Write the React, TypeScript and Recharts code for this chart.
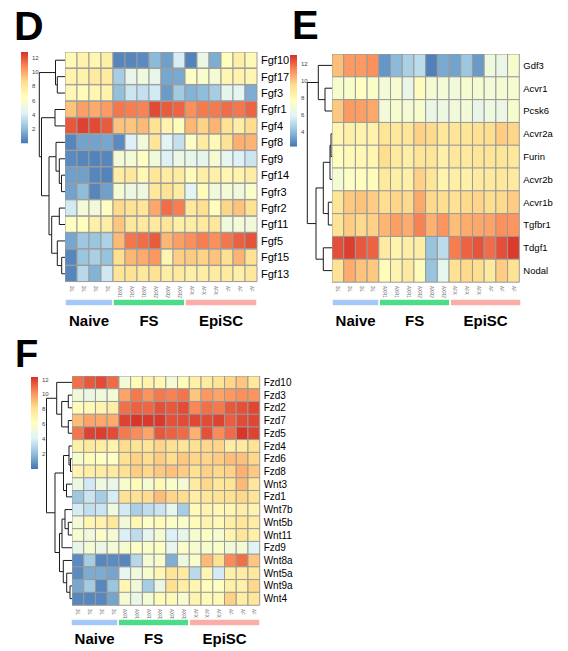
import React from 'react'
import { BarChart, Bar, XAxis, YAxis, Cell, ScatterChart, Scatter, ReferenceLine, LabelList } from 'recharts'

// columns shared by all three heatmaps
const sampleLabels = ['2iL', '2iL', '2iL', '2iL', 'AXR1', 'AXR1', 'AXR1', 'AXR2', 'AXR2', 'AXR2', 'AFX', 'AFX', 'AFX', 'AF', 'AF', 'AF']
const groupNames = ['Naive', 'FS', 'EpiSC']
const groupSizes = [4, 6, 6]
const groupColors = ['#a6c8f7', '#4ddc88', '#faaea7']

// D: FGF family
const fgfGenes = ['Fgf10', 'Fgf17', 'Fgf3', 'Fgfr1', 'Fgf4', 'Fgf8', 'Fgf9', 'Fgf14', 'Fgfr3', 'Fgfr2', 'Fgf11', 'Fgf5', 'Fgf15', 'Fgf13']
const fgfValues = [
  [6.8, 7.3, 7.0, 7.5, 0.5, 0.5, 0.6, 2.0, 1.2, 4.0, 0.4, 5.0, 1.6, 6.5, 7.5, 6.8],
  [7.2, 7.3, 7.8, 7.8, 2.7, 4.8, 5.3, 4.8, 1.4, 1.5, 6.2, 6.0, 5.6, 7.0, 7.2, 7.0],
  [6.9, 6.6, 7.0, 7.3, 2.2, 3.7, 3.5, 3.9, 1.1, 2.6, 1.8, 2.1, 2.7, 4.7, 4.6, 1.6],
  [9.3, 10.2, 9.9, 10.3, 11.2, 11.0, 10.9, 12.2, 11.8, 11.6, 10.6, 11.1, 11.1, 11.4, 11.2, 11.6],
  [11.9, 12.4, 12.2, 11.8, 9.3, 9.2, 9.5, 8.3, 7.2, 6.6, 9.6, 8.9, 9.7, 8.3, 7.6, 8.6],
  [0.5, 1.3, 1.3, 1.4, 0.6, 4.2, 5.4, 8.2, 4.4, 3.5, 6.2, 7.7, 6.8, 8.3, 9.8, 9.7],
  [0.6, 0.5, 0.4, 0.5, 5.5, 5.6, 6.3, 5.4, 4.2, 5.1, 4.8, 4.7, 5.7, 4.6, 4.2, 3.7],
  [1.2, 1.2, 0.5, 0.4, 7.6, 8.0, 6.9, 8.1, 7.7, 7.8, 6.7, 7.5, 7.4, 7.0, 7.2, 7.6],
  [1.3, 2.1, 0.5, 1.2, 5.6, 5.1, 5.2, 8.0, 8.3, 7.7, 4.5, 6.6, 5.3, 5.6, 5.3, 6.0],
  [3.9, 5.5, 5.4, 6.3, 8.7, 8.3, 8.2, 10.0, 11.4, 11.0, 7.9, 8.5, 6.5, 8.8, 9.3, 8.3],
  [6.3, 6.5, 7.4, 7.6, 9.2, 8.0, 7.9, 7.9, 8.2, 7.5, 7.6, 7.9, 8.1, 5.3, 5.5, 5.4],
  [1.4, 2.5, 2.4, 2.9, 9.5, 11.2, 11.4, 11.8, 9.6, 10.2, 10.6, 11.0, 10.6, 11.2, 11.7, 12.0],
  [0.5, 2.4, 2.8, 2.3, 8.5, 9.6, 9.9, 10.4, 7.1, 9.0, 9.1, 8.9, 9.3, 8.5, 9.7, 8.3],
  [0.5, 3.2, 1.8, 3.8, 8.2, 8.3, 8.0, 8.3, 7.6, 7.9, 7.5, 7.6, 7.7, 7.8, 7.5, 8.0],
]
// hclust style: negative = leaf (1-based row), positive = earlier merge
const fgfMerges = [
  [-2, -3, 7.7], [-1, 1, 9.5], [-4, -5, 10], [-8, -9, 3.5], [-7, 4, 5.7], [-6, 5, 9],
  [-13, -14, 3.3], [-12, 7, 7.7], [-10, -11, 5.7], [9, 8, 13.3], [6, 10, 16], [3, 11, 23.5], [2, 12, 25.7],
]
const fgfTicks = [0, 2, 4, 6, 8, 10, 12]

// E: TGF-beta / Nodal
const tgfGenes = ['Gdf3', 'Acvr1', 'Pcsk6', 'Acvr2a', 'Furin', 'Acvr2b', 'Acvr1b', 'Tgfbr1', 'Tdgf1', 'Nodal']
const tgfValues = [
  [10.2, 11.0, 11.0, 11.2, 3.0, 3.9, 4.6, 5.0, 2.5, 3.5, 3.3, 4.3, 3.1, 6.7, 6.4, 7.2],
  [7.2, 7.3, 7.6, 7.4, 6.9, 7.1, 6.4, 7.8, 7.0, 6.9, 6.8, 7.1, 7.0, 6.9, 7.0, 7.1],
  [10.0, 11.0, 10.9, 10.7, 6.9, 7.2, 7.0, 7.2, 6.4, 6.6, 6.8, 6.9, 6.3, 6.7, 6.5, 7.2],
  [8.2, 8.5, 8.4, 8.4, 9.2, 9.0, 9.1, 9.8, 9.6, 9.0, 9.2, 9.1, 9.4, 9.5, 9.9, 9.7],
  [7.7, 8.0, 8.1, 8.2, 9.5, 8.9, 8.7, 9.2, 9.1, 8.5, 9.0, 8.9, 9.1, 9.2, 9.1, 9.0],
  [7.0, 7.5, 7.7, 7.8, 8.9, 8.6, 8.5, 9.8, 9.1, 8.3, 8.6, 8.5, 8.8, 8.9, 9.0, 8.8],
  [9.2, 10.0, 10.1, 9.9, 9.5, 9.7, 9.6, 10.7, 9.6, 9.5, 9.4, 9.6, 9.7, 9.5, 9.6, 9.9],
  [9.3, 9.9, 9.6, 9.8, 10.4, 10.9, 10.6, 11.5, 10.5, 11.1, 10.2, 10.6, 10.7, 10.8, 11.2, 11.1],
  [12.5, 12.8, 12.3, 12.1, 8.8, 8.3, 8.7, 8.7, 4.2, 5.0, 11.6, 12.1, 12.4, 11.9, 12.5, 12.9],
  [9.3, 10.6, 10.1, 10.0, 7.9, 8.3, 8.9, 7.9, 4.2, 6.1, 9.4, 9.6, 9.5, 8.9, 9.9, 9.3],
]
const tgfMerges = [
  [-2, -3, 7], [-1, 1, 13.7], [-4, -5, 1], [3, -6, 2], [-7, -8, 3.7], [4, 5, 8.7],
  [-9, -10, 8.7], [6, 7, 16], [2, 8, 24.7],
]
const tgfTicks = [4, 6, 8, 10, 12]

// F: WNT / Frizzled
const wntGenes = ['Fzd10', 'Fzd3', 'Fzd2', 'Fzd7', 'Fzd5', 'Fzd4', 'Fzd6', 'Fzd8', 'Wnt3', 'Fzd1', 'Wnt7b', 'Wnt5b', 'Wnt11', 'Fzd9', 'Wnt8a', 'Wnt5a', 'Wnt9a', 'Wnt4']
const wntValues = [
  [10.8, 11.3, 11.6, 10.9, 5.3, 6.3, 6.9, 6.6, 5.4, 6.3, 7.1, 7.4, 7.9, 8.4, 8.8, 7.6],
  [5.2, 4.8, 5.0, 5.3, 9.6, 10.6, 10.0, 10.6, 10.4, 10.7, 8.8, 9.9, 9.6, 9.9, 10.1, 10.0],
  [6.3, 6.5, 6.8, 7.2, 10.8, 11.1, 11.0, 11.5, 11.3, 11.6, 10.3, 10.8, 10.6, 11.3, 11.5, 11.7],
  [9.0, 9.6, 9.5, 9.4, 11.8, 12.1, 12.0, 12.0, 11.5, 11.6, 11.7, 11.6, 11.8, 11.2, 11.6, 11.7],
  [10.7, 11.8, 11.9, 11.6, 10.6, 10.2, 9.6, 11.3, 11.1, 10.9, 9.3, 11.5, 10.2, 10.9, 12.1, 11.8],
  [7.1, 7.5, 7.3, 6.9, 8.2, 7.9, 7.8, 8.4, 8.0, 7.8, 8.0, 8.3, 8.4, 7.3, 7.4, 7.9],
  [5.6, 6.3, 6.0, 5.9, 8.1, 8.5, 8.2, 8.6, 8.2, 8.7, 8.4, 8.4, 8.6, 9.0, 8.9, 8.3],
  [6.8, 7.2, 7.3, 7.4, 8.0, 8.6, 8.3, 8.7, 8.9, 8.6, 8.1, 8.5, 8.3, 8.5, 9.3, 8.7],
  [4.9, 3.7, 5.0, 4.7, 5.6, 6.3, 5.5, 6.5, 5.7, 5.4, 7.4, 8.3, 7.6, 7.9, 9.1, 7.7],
  [2.4, 3.5, 2.6, 3.8, 8.0, 8.0, 8.2, 9.0, 8.4, 8.2, 7.3, 7.7, 7.9, 8.0, 8.3, 7.9],
  [3.8, 3.3, 3.5, 5.0, 3.7, 2.7, 3.2, 3.5, 4.5, 2.6, 6.4, 6.8, 6.6, 6.7, 7.2, 6.8],
  [5.3, 6.7, 6.9, 7.6, 5.2, 6.6, 5.9, 6.4, 5.8, 5.7, 6.4, 6.8, 6.5, 7.2, 7.7, 7.3],
  [5.5, 5.0, 5.8, 5.3, 3.9, 3.2, 4.5, 5.4, 4.0, 4.6, 5.6, 6.0, 5.5, 6.8, 7.8, 7.1],
  [4.6, 5.4, 4.8, 5.3, 5.5, 5.9, 5.7, 6.0, 4.5, 5.8, 5.5, 5.6, 5.8, 5.2, 5.4, 4.1],
  [0.6, 2.6, 0.5, 0.6, 0.5, 3.0, 5.4, 5.6, 1.6, 4.9, 5.7, 9.1, 8.0, 10.2, 10.8, 8.8],
  [0.6, 1.5, 1.5, 1.3, 4.4, 5.0, 5.6, 6.6, 7.8, 7.4, 3.1, 6.7, 3.8, 7.1, 7.3, 7.6],
  [1.4, 2.5, 0.5, 2.3, 6.6, 5.2, 2.6, 4.8, 8.0, 7.2, 6.7, 6.2, 6.0, 7.1, 7.0, 8.3],
  [0.5, 0.5, 0.5, 1.3, 5.4, 4.7, 5.4, 6.3, 6.5, 5.6, 6.8, 6.4, 6.5, 8.5, 7.2, 7.7],
]
const wntMerges = [
  [-2, -3, 4], [-4, -5, 4], [1, 2, 10.6], [-1, 3, 15.6], [-7, -8, 1.8], [-6, 5, 3.3],
  [-9, -10, 5.8], [6, 7, 8.8], [-12, -13, 4], [-11, 9, 7.3], [10, -14, 10.3], [-17, -18, 2.3],
  [-16, 12, 5.6], [-15, 13, 9], [11, 14, 12.8], [8, 15, 17.3], [4, 16, 25.8],
]
const wntTicks = [0, 2, 4, 6, 8, 10, 12]

const PALETTE = ['#4575B4', '#91BFDB', '#E0F3F8', '#FFFFBF', '#FEE090', '#FC8D59', '#D73027']

function hexRgb(h: string) {
  return [1, 3, 5].map((i) => parseInt(h.slice(i, i + 2), 16))
}

function heatColor(v: number, lo: number, hi: number) {
  const t = Math.max(0, Math.min(1, (v - lo) / (hi - lo)))
  const s = t * (PALETTE.length - 1)
  const i = Math.min(Math.floor(s), PALETTE.length - 2)
  const f = s - i
  const a = hexRgb(PALETTE[i])
  const b = hexRgb(PALETTE[i + 1])
  const c = a.map((x, k) => Math.round(x + (b[k] - x) * f))
  return `rgb(${c[0]},${c[1]},${c[2]})`
}

const colTick = (props: any) => {
  const { x, y, payload } = props
  return (
    <text transform={`translate(${x},${y}) rotate(90)`} fontSize={4.5} fill="#666" textAnchor="start" dominantBaseline="central">
      {sampleLabels[Math.floor(payload.value)]}
    </text>
  )
}

function Heatmap({ genes, values, lo, hi, left, top, width, height, labelWidth, fontSize }: any) {
  const rows = genes.map((g: string) => {
    const r: any = { gene: g }
    sampleLabels.forEach((_, j) => (r['c' + j] = 1))
    return r
  })
  return (
    <div style={{ position: 'absolute', left, top }}>
      <BarChart layout="vertical" width={width + labelWidth} height={height + 20} data={rows}
        margin={{ top: 0, right: 0, bottom: 0, left: 0 }} barCategoryGap={0}>
        <XAxis type="number" domain={[0, sampleLabels.length]} ticks={sampleLabels.map((_, j) => j + 0.5)}
          interval={0} height={20} axisLine={false} tickLine={false} tickSize={2} tick={colTick} />
        <YAxis type="category" dataKey="gene" orientation="right" width={labelWidth} interval={0}
          axisLine={false} tickLine={false} tickSize={2} tick={{ fontSize, fill: '#000' }} />
        {sampleLabels.map((_, j) => (
          <Bar key={j} dataKey={'c' + j} stackId="h" isAnimationActive={false} stroke="#9a9a9a" strokeWidth={1}>
            {genes.map((g: string, i: number) => (
              <Cell key={g} fill={heatColor(values[i][j], lo, hi)} />
            ))}
          </Bar>
        ))}
      </BarChart>
    </div>
  )
}

function Dendrogram({ merges, n, hmax, left, top, width, height }: any) {
  const ys: number[] = []
  const hs: number[] = []
  const segs: number[][] = []
  const node = (k: number) => (k < 0 ? { y: -k - 0.5, h: 0 } : { y: ys[k - 1], h: hs[k - 1] })
  merges.forEach(([a, b, h]: number[]) => {
    const A = node(a)
    const B = node(b)
    segs.push([A.h, A.y, h, A.y], [B.h, B.y, h, B.y], [h, A.y, h, B.y])
    ys.push((A.y + B.y) / 2)
    hs.push(h)
  })
  const leaves = Array.from({ length: n }, (_, i) => ({ h: 0, y: i + 0.5 }))
  return (
    <div style={{ position: 'absolute', left, top }}>
      <ScatterChart width={width} height={height} margin={{ top: 0, right: 0, bottom: 0, left: 0 }}>
        <XAxis type="number" dataKey="h" domain={[0, hmax]} reversed hide />
        <YAxis type="number" dataKey="y" domain={[0, n]} reversed hide />
        <Scatter data={leaves} isAnimationActive={false} shape={() => <g />} />
        {segs.map((s, i) => (
          <ReferenceLine key={i} segment={[{ x: s[0], y: s[1] }, { x: s[2], y: s[3] }]}
            stroke="#1a1a1a" strokeWidth={1} ifOverflow="visible" />
        ))}
      </ScatterChart>
    </div>
  )
}

function ColorKey({ id, lo, hi, ticks, left, top, height }: any) {
  return (
    <div style={{ position: 'absolute', left, top }}>
      <BarChart width={24} height={height} data={[{ k: 'key', v: hi }]} margin={{ top: 0, right: 0, bottom: 0, left: 0 }} barCategoryGap={0}>
        <defs>
          <linearGradient id={id} x1="0" y1="1" x2="0" y2="0">
            {PALETTE.map((c, i) => (
              <stop key={c} offset={i / (PALETTE.length - 1)} stopColor={c} />
            ))}
          </linearGradient>
        </defs>
        <XAxis dataKey="k" hide />
        <YAxis type="number" domain={[lo, hi]} ticks={ticks} orientation="right" width={17} allowDataOverflow
          axisLine={false} tickLine={false} tickSize={2} tick={{ fontSize: 6, fill: '#444' }} />
        <Bar dataKey="v" fill={`url(#${id})`} isAnimationActive={false} />
      </BarChart>
    </div>
  )
}

function Groups({ left, top, width, offset }: any) {
  const row: any = { g: 'groups' }
  groupNames.forEach((name, i) => {
    row['s' + i] = groupSizes[i]
    row['l' + i] = name
  })
  return (
    <div style={{ position: 'absolute', left, top }}>
      <BarChart layout="vertical" width={width} height={36} data={[row]} margin={{ top: 0, right: 0, bottom: 29.5, left: 0 }} barCategoryGap={0}>
        <XAxis type="number" domain={[0, sampleLabels.length]} hide />
        <YAxis type="category" dataKey="g" hide />
        {groupNames.map((name, i) => (
          <Bar key={name} dataKey={'s' + i} stackId="g" fill={groupColors[i]} stroke="#fff" strokeWidth={1.5} isAnimationActive={false}>
            <LabelList dataKey={'l' + i} position="bottom" offset={offset} fill="#000" fontSize={15} fontWeight="bold" />
          </Bar>
        ))}
      </BarChart>
    </div>
  )
}

export default function App() {
  return (
    <div style={{ position: 'absolute', left: 0, top: 0, width: 568, height: 651, background: '#fff', fontFamily: 'Arial, "Liberation Sans", sans-serif' }}>
      <svg width={568} height={651} style={{ position: 'absolute', left: 0, top: 0 }}>
        <text x={14} y={40} fontSize={41} fontWeight="bold">D</text>
        <text x={292} y={39} fontSize={40} fontWeight="bold">E</text>
        <text x={15} y={367} fontSize={38} fontWeight="bold">F</text>
      </svg>

      <ColorKey id="keyD" lo={0} hi={12.8} ticks={fgfTicks} left={21} top={52} height={91.5} />
      <Dendrogram merges={fgfMerges} n={fgfGenes.length} hmax={28} left={37} top={52} width={28} height={230} />
      <Heatmap genes={fgfGenes} values={fgfValues} lo={0} hi={12.8} left={65} top={52} width={192} height={230} labelWidth={36} fontSize={11} />
      <Groups left={65} top={299} width={192} offset={9} />

      <ColorKey id="keyE" lo={2.2} hi={13.1} ticks={tgfTicks} left={290} top={55} height={91.7} />
      <Dendrogram merges={tgfMerges} n={tgfGenes.length} hmax={26} left={306} top={54.3} width={26} height={228} />
      <Heatmap genes={tgfGenes} values={tgfValues} lo={2.2} hi={13.1} left={332} top={54.3} width={187.3} height={228} labelWidth={40} fontSize={9.5} />
      <Groups left={332} top={299} width={189} offset={9} />

      <ColorKey id="keyF" lo={0} hi={12.2} ticks={wntTicks} left={31} top={376.5} height={92} />
      <Dendrogram merges={wntMerges} n={wntGenes.length} hmax={27.3} left={45} top={376} width={27.3} height={229} />
      <Heatmap genes={wntGenes} values={wntValues} lo={0} hi={12.2} left={72.3} top={376} width={187.7} height={229} labelWidth={36} fontSize={10} />
      <Groups left={71} top={619} width={189} offset={7} />
    </div>
  )
}
